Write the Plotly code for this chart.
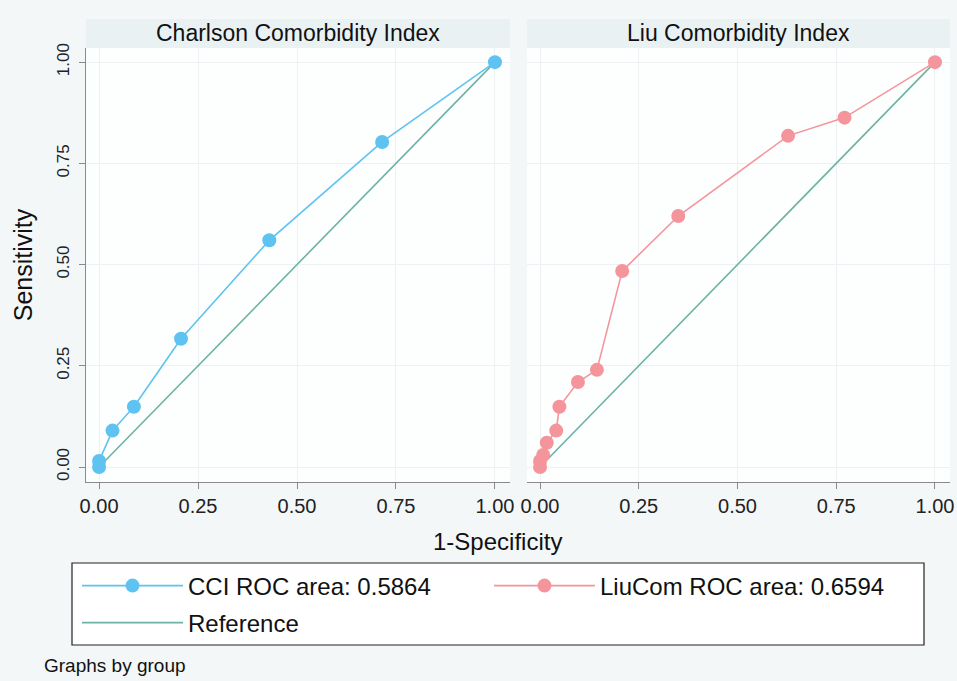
import plotly.graph_objects as go

# ---- data ----
cci_fpr = [0.0, 0.0, 0.034, 0.088, 0.207, 0.430, 0.715, 1.0]
cci_tpr = [0.0, 0.015, 0.090, 0.149, 0.317, 0.560, 0.803, 1.0]
liu_fpr = [0.0, 0.0, 0.008, 0.017, 0.041, 0.049, 0.096, 0.144, 0.208, 0.350, 0.628, 0.771, 1.0]
liu_tpr = [0.0, 0.015, 0.030, 0.060, 0.090, 0.149, 0.210, 0.240, 0.484, 0.620, 0.818, 0.863, 1.0]
ref_x = [0.0, 1.0]
ref_y = [0.0, 1.0]
panel_titles = ["Charlson Comorbidity Index", "Liu Comorbidity Index"]
tick_vals = [0, 0.25, 0.5, 0.75, 1.0]
tick_text = ["0.00", "0.25", "0.50", "0.75", "1.00"]
cci_name = "CCI ROC area: 0.5864"
liu_name = "LiuCom ROC area: 0.6594"
ref_name = "Reference"

W, H = 957, 681
FONT = "Liberation Sans, Arial, Helvetica, sans-serif"
C_CCI = "#5ec3f0"
C_LIU = "#f4959c"
C_REF = "#6db3a4"
BG = "#f3f7f8"
STRIP = "#e9f1f3"
GRID = "#edf1f3"

def px(x):
    return x / W

def py(y):
    return 1 - y / H

fig = go.Figure()

fig.add_trace(go.Scatter(x=ref_x, y=ref_y, mode="lines", name=ref_name,
                         line=dict(color=C_REF, width=1.6),
                         xaxis="x", yaxis="y", legend="legend2"))
fig.add_trace(go.Scatter(x=cci_fpr, y=cci_tpr, mode="lines+markers", name=cci_name,
                         line=dict(color=C_CCI, width=1.6),
                         marker=dict(color=C_CCI, size=14),
                         xaxis="x", yaxis="y", legend="legend"))
fig.add_trace(go.Scatter(x=ref_x, y=ref_y, mode="lines", name=ref_name,
                         line=dict(color=C_REF, width=1.6), showlegend=False,
                         xaxis="x2", yaxis="y2"))
fig.add_trace(go.Scatter(x=liu_fpr, y=liu_tpr, mode="lines+markers", name=liu_name,
                         line=dict(color=C_LIU, width=1.6),
                         marker=dict(color=C_LIU, size=14),
                         xaxis="x2", yaxis="y2", legend="legend"))

ydom = [py(482), py(48)]
xdom1 = [px(86), px(510)]
xdom2 = [px(527), px(950)]

common_x = dict(range=[-0.033, 1.038], tickvals=tick_vals, ticktext=tick_text,
                showline=True, linecolor="#8a8a8a", linewidth=1.2,
                ticks="outside", ticklen=6, tickcolor="#8a8a8a",
                showgrid=True, gridcolor=GRID, gridwidth=1, zeroline=False,
                automargin=False,
                tickfont=dict(family=FONT, size=20, color="#222"))
fig.update_layout(
    xaxis=dict(domain=xdom1, anchor="y", **common_x),
    xaxis2=dict(domain=xdom2, anchor="y2", **common_x),
    yaxis=dict(domain=ydom, anchor="x", range=[-0.037, 1.035], tickvals=tick_vals,
               ticktext=tick_text, tickangle=-90, automargin=False,
               showline=True, linecolor="#8a8a8a", linewidth=1.2,
               ticks="outside", ticklen=6, tickcolor="#8a8a8a",
               ticklabelstandoff=3,
               showgrid=True, gridcolor=GRID, zeroline=False,
               tickfont=dict(family=FONT, size=17, color="#222"),
               title=dict(text="Sensitivity", font=dict(family=FONT, size=25, color="#111"),
                          standoff=14)),
    yaxis2=dict(domain=ydom, anchor="x2", range=[-0.037, 1.035], tickvals=tick_vals,
                showticklabels=False, showline=False, ticks="", automargin=False,
                showgrid=True, gridcolor=GRID, zeroline=False),
)

shapes = []
annotations = []
for dom, title in zip([xdom1, xdom2], panel_titles):
    shapes.append(dict(type="rect", xref="paper", yref="paper",
                       x0=dom[0], x1=dom[1], y0=py(48), y1=py(19),
                       fillcolor=STRIP, line=dict(width=0), layer="below"))
    annotations.append(dict(text=title, xref="paper", yref="paper",
                            x=(dom[0] + dom[1]) / 2, y=py(33), showarrow=False,
                            xanchor="center", yanchor="middle",
                            font=dict(family=FONT, size=23, color="#111")))
# legend box
shapes.append(dict(type="rect", xref="paper", yref="paper",
                   x0=px(72), x1=px(924), y0=py(645), y1=py(563),
                   fillcolor="white", line=dict(color="#222", width=1.2), layer="below"))

annotations.append(dict(text="1-Specificity", xref="paper", yref="paper",
                        x=px(497), y=py(541), showarrow=False,
                        xanchor="center", yanchor="middle",
                        font=dict(family=FONT, size=24, color="#111")))
annotations.append(dict(text="Graphs by group", xref="paper", yref="paper",
                        x=px(42), y=py(665), showarrow=False,
                        xanchor="left", yanchor="middle",
                        font=dict(family=FONT, size=19, color="#111")))

leg_common = dict(orientation="h", xanchor="left", yanchor="middle",
                  bgcolor="rgba(0,0,0,0)", borderwidth=0,
                  itemwidth=101, traceorder="normal",
                  font=dict(family=FONT, size=24, color="#111"))
fig.update_layout(
    width=W, height=H,
    margin=dict(l=0, r=0, t=0, b=0, pad=0, autoexpand=False),
    paper_bgcolor=BG, plot_bgcolor="#fdfefe",
    shapes=shapes, annotations=annotations,
    showlegend=True,
    legend=dict(x=px(77), y=py(586), entrywidth=296, entrywidthmode="pixels", **leg_common),
    legend2=dict(x=px(77), y=py(623), **leg_common),
)

fig.write_html("out.html", config={"displayModeBar": False},
               post_script="document.body.style.margin='0';document.body.style.overflow='hidden';")
